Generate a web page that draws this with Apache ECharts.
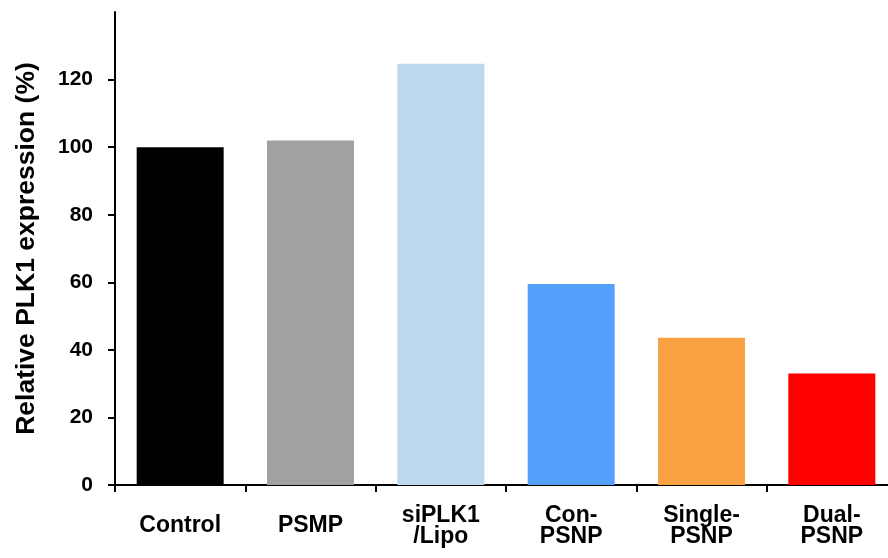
<!DOCTYPE html>
<html>
<head>
<meta charset="utf-8">
<script src="https://cdn.jsdelivr.net/npm/echarts@6/dist/echarts.min.js"></script>
<style>html,body{margin:0;padding:0;background:#fff;}#c{width:888px;height:558px;}</style>
</head>
<body>
<div id="c"></div>
<script>
const categories = ['Control', 'PSMP', 'siPLK1\n/Lipo', 'Con-\nPSNP', 'Single-\nPSNP', 'Dual-\nPSNP'];
const values = [100, 102, 124.7, 59.5, 43.6, 33.0];
const barColors = ['#000000', '#A1A1A3', '#BDD7EE', '#55A0FD', '#F9A042', '#FF0000'];
const yTickValues = [0, 20, 40, 60, 80, 100, 120];
const yAxisTitle = 'Relative PLK1 expression (%)';

const chart = echarts.init(document.getElementById('c'));
chart.setOption({
  animation: false,
  backgroundColor: '#ffffff',
  grid: { left: 115, right: -9, top: 12, bottom: 73, containLabel: false, outerBoundsMode: 'none' },
  xAxis: {
    type: 'category',
    data: categories,
    axisLine: { lineStyle: { color: '#000', width: 2 } },
    axisTick: { show: true, length: 7, lineStyle: { color: '#000', width: 2 } },
    axisLabel: {
      color: '#000', fontFamily: 'Liberation Sans, Arial, sans-serif', fontWeight: 'bold',
      fontSize: 23, lineHeight: 21, margin: 41, verticalAlign: 'middle', interval: 0
    },
    splitLine: { show: false }
  },
  yAxis: {
    type: 'value',
    min: 0, max: 140, interval: 20,
    name: yAxisTitle,
    nameLocation: 'middle',
    nameGap: 75,
    nameTextStyle: { color: '#000', fontFamily: 'Liberation Sans, Arial, sans-serif', fontWeight: 'bold', fontSize: 26.5 },
    axisLine: { show: true, lineStyle: { color: '#000', width: 2 } },
    axisTick: { show: true, length: 7, customValues: yTickValues, lineStyle: { color: '#000', width: 2 } },
    axisLabel: {
      customValues: yTickValues,
      color: '#000', fontFamily: 'Liberation Sans, Arial, sans-serif', fontWeight: 'bold',
      fontSize: 21, margin: 22
    },
    splitLine: { show: false }
  },
  series: [{
    type: 'bar',
    data: values.map((v, i) => ({ value: v, itemStyle: { color: barColors[i] } })),
    barWidth: 87
  }]
});
</script>
</body>
</html>
